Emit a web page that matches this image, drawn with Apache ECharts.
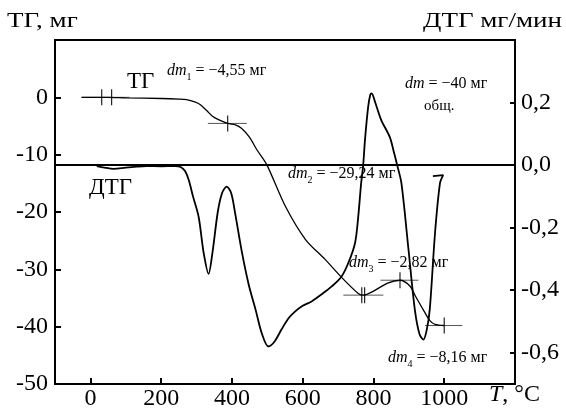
<!DOCTYPE html>
<html>
<head>
<meta charset="utf-8">
<script src="https://cdn.jsdelivr.net/npm/echarts@6/dist/echarts.min.js"></script>
<style>
  html, body { margin: 0; padding: 0; background: #fff; }
  #chart { width: 566px; height: 412px; }
</style>
</head>
<body>
<div id="chart"></div>
<script>
// ТГ: temperature (°C) and mass loss (мг)
var tgT  = [-25, 50, 100, 200, 250, 272, 295, 311, 330, 345, 362, 388, 410, 427, 450, 470, 498, 551, 608, 664, 710, 757, 772, 800, 840, 875, 903, 918, 945, 960, 974, 1000];
var tgMg = [0, 0, -0.1, -0.2, -0.3, -0.4, -0.8, -1.3, -2.4, -3.3, -3.9, -4.55, -4.8, -5.4, -7, -9.1, -11.7, -19, -24.8, -28.3, -31.4, -34.2, -34.5, -33.8, -32.4, -31.9, -32.9, -34.6, -37.5, -39, -39.6, -39.8];

// ДТГ: temperature (°C) and rate (мг/мин)
var dtgT   = [18, 40, 66, 100, 130, 159, 200, 240, 255, 268, 278, 290, 306, 320, 334, 345, 360, 372, 385, 398, 410, 427, 447, 467, 485, 503, 520, 540, 560, 579, 600, 625, 655, 682, 710, 730, 748, 757, 765, 771, 776, 785, 791, 795, 805, 822, 846, 858, 867, 879, 899, 917, 930, 941, 950, 959, 974, 988, 997, 968];
var dtgVal = [-0.003, -0.008, -0.012, -0.008, -0.005, -0.003, -0.004, -0.003, -0.006, -0.02, -0.048, -0.1, -0.166, -0.28, -0.348, -0.28, -0.15, -0.09, -0.069, -0.09, -0.16, -0.271, -0.38, -0.463, -0.54, -0.58, -0.565, -0.526, -0.49, -0.468, -0.45, -0.436, -0.412, -0.388, -0.356, -0.31, -0.249, -0.165, -0.06, 0, 0.08, 0.186, 0.225, 0.229, 0.2, 0.144, 0.09, 0.04, 0, -0.058, -0.27, -0.463, -0.54, -0.558, -0.53, -0.463, -0.217, -0.058, -0.032, -0.035];

// step markers on the ТГ curve
var crossMg   = [0, -4.55, -34.5, -31.9, -39.8];
var crossFrom = [-25, 332, 715, 820, 946];
var crossTo   = [110, 442, 828, 927, 1051];
var crossBars = [[32, 60], [388], [767, 775], [875], [1000]];

var xTicks   = [0, 200, 400, 600, 800, 1000];
var tgTicks  = [-50, -40, -30, -20, -10, 0];
var dtgTicks = [-0.6, -0.4, -0.2, 0, 0.2];

var FONT = "'Liberation Serif', 'DejaVu Serif', serif";

var chart = echarts.init(document.getElementById('chart'));

var tgData = tgT.map(function (t, i) { return [t, tgMg[i]]; });
var dtgData = dtgT.map(function (t, i) { return [t, dtgVal[i]]; });
var crossData = crossMg.map(function (m, i) { return [crossFrom[i], crossTo[i], m, i]; });

function dmText(sub, rest) {
    return '{i|dm}{s|' + sub + '}{n| = ' + rest + '}';
}
var dmRich = {
    i: { fontFamily: FONT, fontStyle: 'italic', fontSize: 16, color: '#000', verticalAlign: 'bottom' },
    s: { fontFamily: FONT, fontSize: 10, color: '#000', verticalAlign: 'bottom', padding: [0, 0, -3, 0] },
    n: { fontFamily: FONT, fontSize: 16, color: '#000', verticalAlign: 'bottom' }
};

function note(x, y, str) {
    return {
        type: 'text', left: x, top: y,
        style: { text: str, rich: dmRich, fill: '#000' }
    };
}

var tickLabel = { color: '#000', fontFamily: FONT, fontSize: 24 };

var option = {
    animation: false,
    backgroundColor: '#fff',
    grid: {
        left: 55, right: 51, top: 40, bottom: 28,
        show: true, borderColor: '#000', borderWidth: 2
    },
    xAxis: {
        type: 'value', min: -100, max: 1200,
        axisLine: { onZero: false, lineStyle: { color: '#000', width: 2 } },
        axisTick: { inside: true, length: 6, lineStyle: { color: '#000', width: 2 }, customValues: xTicks },
        axisLabel: Object.assign({ customValues: xTicks, margin: 3, formatter: function (v) { return String(v); } }, tickLabel),
        splitLine: { show: false }
    },
    yAxis: [
        {
            type: 'value', min: -50, max: 10, position: 'left',
            axisLine: { show: true, onZero: false, lineStyle: { color: '#000', width: 2 } },
            axisTick: { show: true, inside: true, length: 6, lineStyle: { color: '#000', width: 2 }, customValues: tgTicks },
            axisLabel: Object.assign({ customValues: tgTicks, margin: 7 }, tickLabel),
            splitLine: { show: false }
        },
        {
            type: 'value', min: -0.7, max: 0.4, position: 'right',
            axisLine: { show: true, onZero: false, lineStyle: { color: '#000', width: 2 } },
            axisTick: { show: true, inside: true, length: 5, lineStyle: { color: '#000', width: 2 }, customValues: dtgTicks },
            axisLabel: Object.assign({
                customValues: dtgTicks, margin: 6,
                formatter: function (v) { return v.toFixed(1).replace('.', ','); }
            }, tickLabel),
            splitLine: { show: false }
        }
    ],
    series: [
        {
            name: 'ТГ', type: 'line', yAxisIndex: 0, data: tgData,
            showSymbol: false, smooth: 0.3,
            lineStyle: { color: '#000', width: 1.3 }
        },
        {
            name: 'ДТГ', type: 'line', yAxisIndex: 1, data: dtgData,
            showSymbol: false, smooth: 0.3,
            lineStyle: { color: '#000', width: 1.8 },
            markLine: {
                silent: true, symbol: 'none', label: { show: false },
                lineStyle: { color: '#000', width: 2, type: 'solid' },
                data: [{ yAxis: 0 }]
            }
        },
        {
            name: 'marks', type: 'custom', yAxisIndex: 0, data: crossData,
            renderItem: function (params, api) {
                var idx = api.value(3);
                var a = api.coord([api.value(0), api.value(2)]);
                var b = api.coord([api.value(1), api.value(2)]);
                var kids = [{
                    type: 'line',
                    shape: { x1: a[0], y1: a[1], x2: b[0], y2: b[1] },
                    style: { stroke: '#555', lineWidth: 1 }
                }];
                crossBars[idx].forEach(function (t) {
                    var p = api.coord([t, api.value(2)]);
                    kids.push({
                        type: 'line',
                        shape: { x1: p[0], y1: p[1] - 8, x2: p[0], y2: p[1] + 8 },
                        style: { stroke: '#222', lineWidth: 1.2 }
                    });
                });
                return { type: 'group', children: kids };
            }
        }
    ],
    graphic: [
        { type: 'text', left: 7, top: 12, scaleX: 1.35, style: { text: 'ТГ, мг', font: '20px ' + FONT, fill: '#000' } },
        { type: 'text', left: 423, top: 12, scaleX: 1.35, style: { text: 'ДТГ мг/мин', font: '20px ' + FONT, fill: '#000' } },
        { type: 'text', left: 127, top: 70, style: { text: 'ТГ', font: '23px ' + FONT, fill: '#000' } },
        { type: 'text', left: 89, top: 176, style: { text: 'ДТГ', font: '23px ' + FONT, fill: '#000' } },
        {
            type: 'text', left: 489, top: 383,
            style: {
                text: '{i|T}{n|, °C}',
                rich: {
                    i: { fontFamily: FONT, fontStyle: 'italic', fontSize: 24, color: '#000' },
                    n: { fontFamily: FONT, fontSize: 24, color: '#000' }
                }
            }
        },
        note(167, 63, dmText('1', '−4,55 мг')),
        note(288, 166, dmText('2', '−29,24 мг')),
        note(349, 255, dmText('3', '−2,82 мг')),
        note(388, 350, dmText('4', '−8,16 мг')),
        {
            type: 'text', left: 405, top: 76,
            style: { text: '{i|dm}{n| = −40 мг}', rich: dmRich }
        },
        { type: 'text', left: 424, top: 99, style: { text: 'общ.', font: '15px ' + FONT, fill: '#000' } }
    ]
};

chart.setOption(option);
</script>
</body>
</html>
